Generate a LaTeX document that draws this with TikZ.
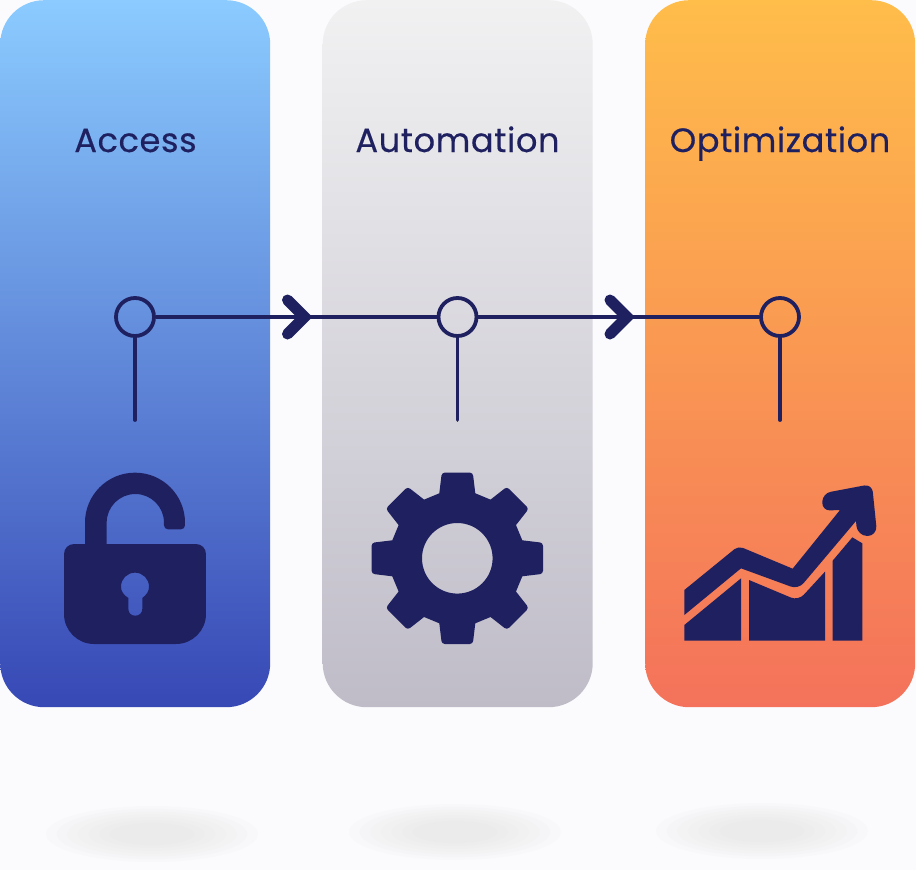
\documentclass[tikz,border=0pt]{standalone}
\usepackage{fontspec}
\setmainfont[FakeBold=0.35,LetterSpace=1.6]{Poppins}
\definecolor{navy}{HTML}{1F2060}
\definecolor{pagebg}{HTML}{FBFBFD}
\definecolor{blobgray}{HTML}{DADADA}
\definecolor{bluetop}{HTML}{8BCBFF}
\definecolor{bluebot}{HTML}{3748B5}
\definecolor{graytop}{HTML}{F1F1F2}
\definecolor{graybot}{HTML}{BFBCC8}
\definecolor{orangetop}{HTML}{FFBD4A}
\definecolor{orangebot}{HTML}{F4725B}
\newcommand{\softblob}[2]{%
  \foreach \f in {1.00,0.90,0.80,0.70,0.60,0.50,0.40}{
    \fill[blobgray,fill opacity=0.07] (#1,#2) ellipse [x radius=106*\f,y radius=28*\f];
  }}
\tikzset{
  panel/.style={rectangle,rounded corners=44pt,minimum width=270pt,minimum height=707pt,inner sep=0pt,anchor=north west},
  title/.style={text=navy,font=\fontsize{33.7}{38}\selectfont,inner sep=0pt,anchor=base},
  ring/.style={circle,draw=navy,line width=3.8pt,minimum size=38pt,inner sep=0pt},
  link/.style={draw=navy,line width=3.8pt},
  stem/.style={draw=navy,line width=3.8pt,line cap=round},
  chev/.style={draw=navy,line width=11pt,line cap=round,miter limit=10},
}
\begin{document}
\begin{tikzpicture}[x=1pt,y=-1pt]
\useasboundingbox (0,0) rectangle (916,870);
\fill[pagebg] (0,0) rectangle (916,870);

\node[panel,top color=bluetop,bottom color=bluebot] (p1) at (0,0) {};
\node[panel,top color=graytop,bottom color=graybot] (p2) at (322.5,0) {};
\node[panel,top color=orangetop,bottom color=orangebot] (p3) at (645,0) {};

\node[title] (t1) at (135.5,152) {Access};
\node[title] (t2) at (457.5,152) {Automation};
\node[title] (t3) at (780,152) {Optimization};

\softblob{152}{834}
\softblob{455}{832}
\softblob{762}{831}

\node[ring] (c1) at (135,317) {};
\node[ring] (c2) at (457.5,317) {};
\node[ring] (c3) at (780,317) {};
\coordinate (e1) at (135,420);
\coordinate (e2) at (457.5,420);
\coordinate (e3) at (780,420);
\coordinate (a1) at (304.5,317);
\coordinate (a1u) at (287.5,300);
\coordinate (a1d) at (287.5,334);
\coordinate (a2) at (627,317);
\coordinate (a2u) at (610,300);
\coordinate (a2d) at (610,334);

\draw[link] (c1) -- (c2);
\draw[link] (c2) -- (c3);
\draw[stem] (c1) -- (e1);
\draw[stem] (c2) -- (e2);
\draw[stem] (c3) -- (e3);
\draw[chev] (a1u) -- (a1) -- (a1d);
\draw[chev] (a2u) -- (a2) -- (a2d);

% padlock
\begin{scope}[shift={(40,450)},x=0.33333pt,y=-0.33333pt]
\fill[navy]
  (135,285) -- (135,218) arc[start angle=180,end angle=360,x radius=150,y radius=150]
  [rounded corners=4pt] -- (435,238) -- (372,238) [sharp corners] -- (372,218)
  arc[start angle=360,end angle=180,x radius=86,y radius=86] -- (200,285) -- cycle;
\fill[navy,even odd rule]
  [rounded corners=10pt] (72,282) -- (498,282) [rounded corners=30pt] -- (498,582) -- (72,582) [rounded corners=10pt] -- cycle
  [sharp corners]
  (265,444) .. controls (250,434) and (243,424) .. (243,410)
  .. controls (243,386) and (262,368) .. (285,368)
  .. controls (308,368) and (327,386) .. (327,410)
  .. controls (327,424) and (320,434) .. (307,444)
  -- (307,476) .. controls (307,490) and (297,497) .. (286,497)
  .. controls (274,497) and (265,490) .. (265,476) -- cycle;
\end{scope}

% gear
\begin{scope}[shift={(457.3,558.3)}]
\fill[navy,even odd rule]
  ([rotate=0]-18,-65)
  \foreach \a in {0,-45,...,-315}{
    -- ([rotate=\a]-18,-65) [rounded corners=3pt] -- ([rotate=\a]-15.5,-85.7) -- ([rotate=\a]15.5,-85.7) [sharp corners] -- ([rotate=\a]18,-65)
  } -- cycle
  (0,0) circle [radius=35.3];
\end{scope}

% chart
\begin{scope}[shift={(670,470)},x=0.33333pt,y=-0.33333pt]
\fill[navy] (43,360) [rounded corners=5pt] -- (205,228) [rounded corners=0pt] -- (368,296) -- (510,120)
  [rounded corners=8pt] -- (456,122) -- (458,70) -- (606,42) [rounded corners=10pt] -- (622,198) -- (562,198) [sharp corners] -- (558,153)
  [rounded corners=8pt] -- (385,358) [sharp corners] -- (213,295) -- (43,435) -- cycle;
\fill[navy] (43,465) -- (213,325) -- (213,512) -- (43,512) -- cycle;
\fill[navy] (237,330) [rounded corners=8pt] -- (385,392) [sharp corners] -- (465,305) -- (465,512) -- (237,512) -- cycle;
\fill[navy] (488,272) -- (547,202) -- (577,220) -- (577,512) -- (488,512) -- cycle;
\end{scope}
\end{tikzpicture}
\end{document}
